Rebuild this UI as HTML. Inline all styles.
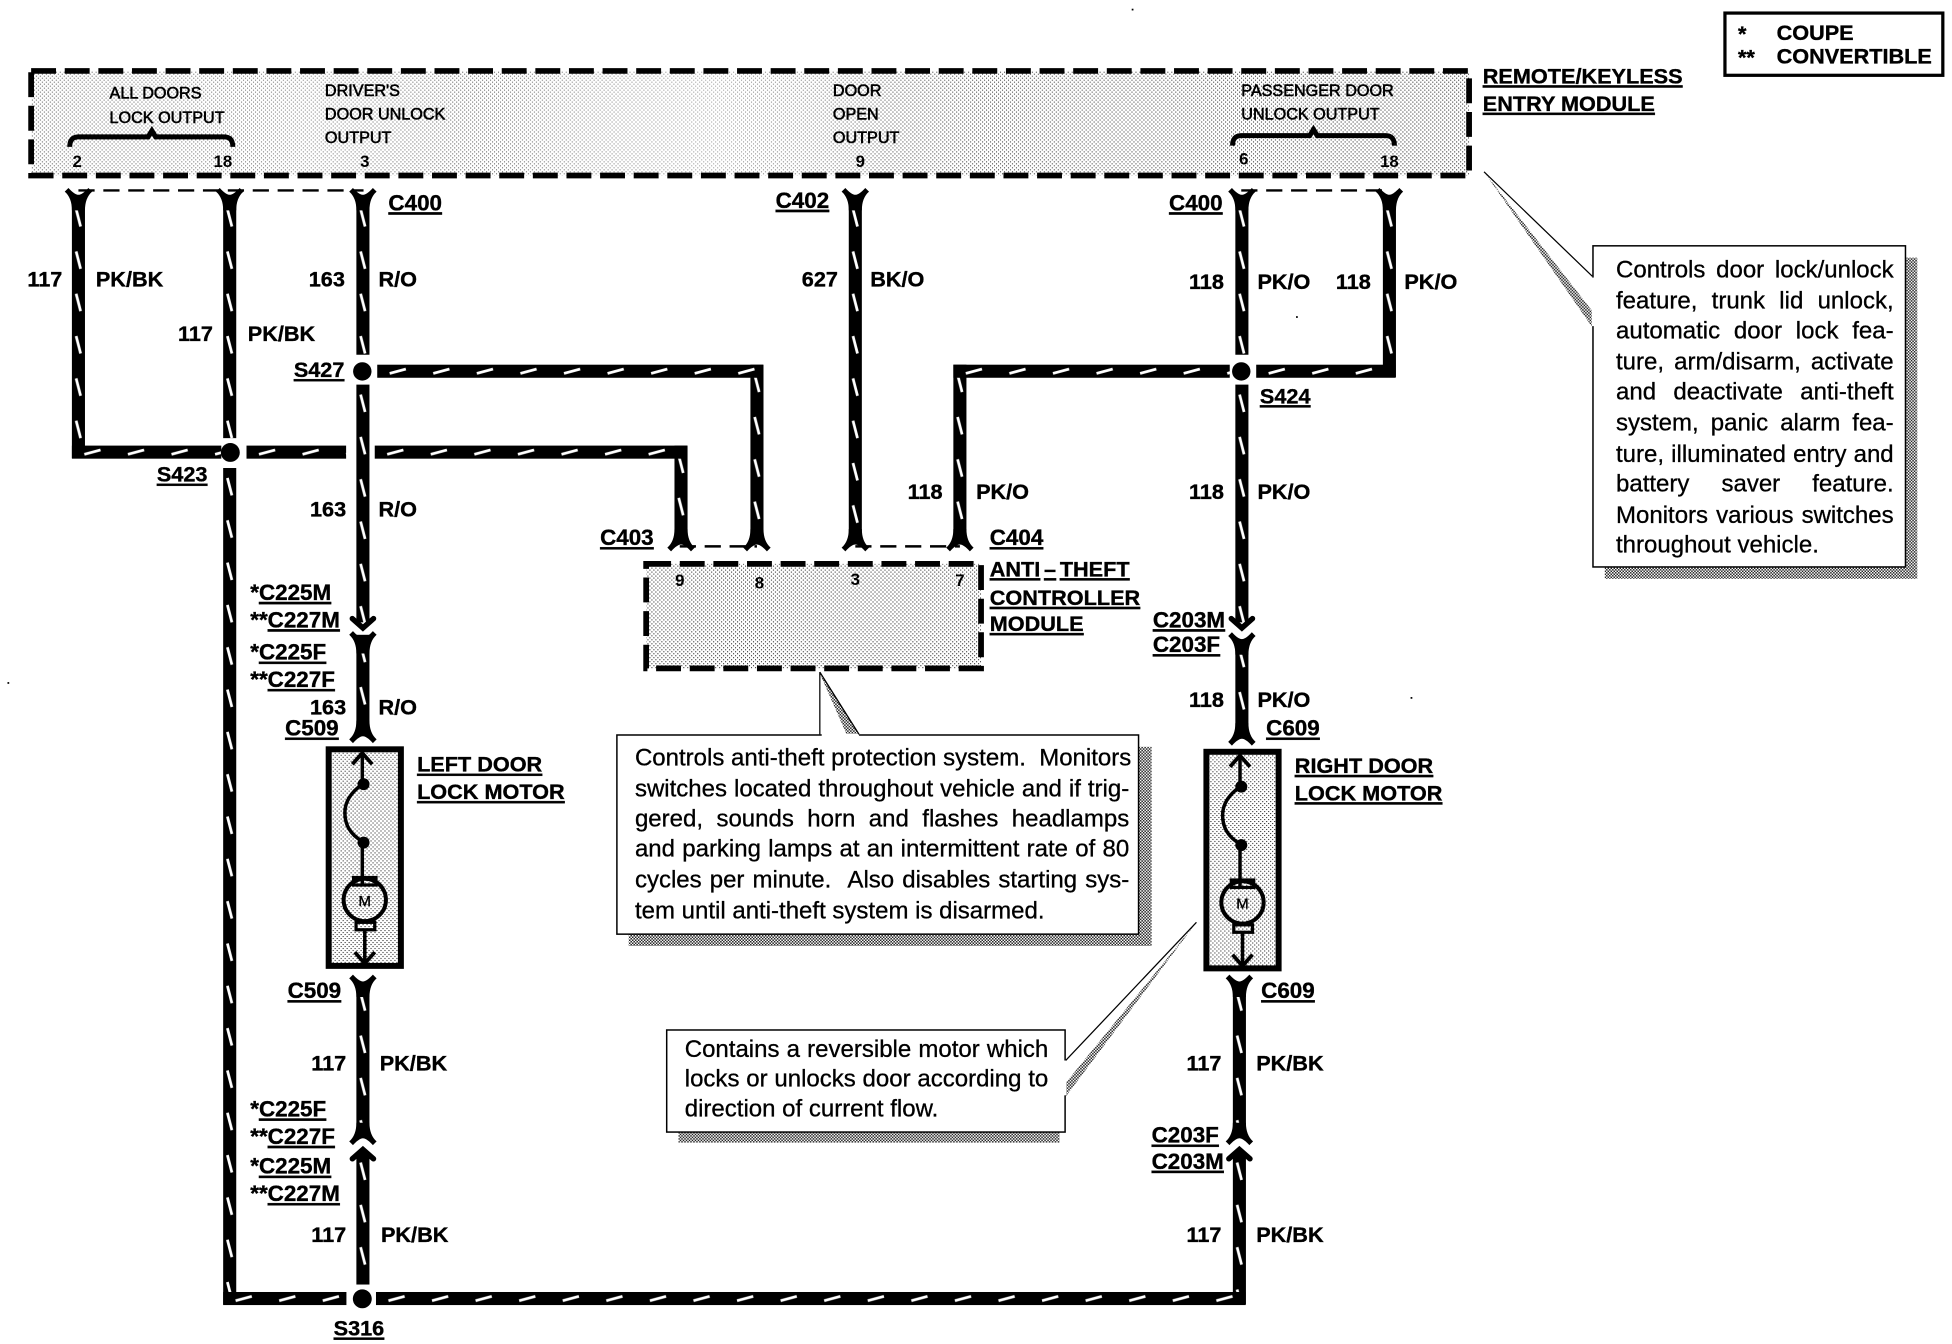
<!DOCTYPE html>
<html><head><meta charset="utf-8"><style>
html,body{margin:0;padding:0;background:#fff;width:1952px;height:1344px;overflow:hidden}
#w{position:absolute;left:0;top:0;width:1564px;height:1077px;transform-origin:0 0;transform:scale(1.245,1.2447)}
svg{position:absolute;left:0;top:0}
text{font-family:"Liberation Sans",sans-serif;fill:#000}
.b{font-weight:bold;font-size:17.4px;stroke:#000;stroke-width:.3}
.c{font-size:18px}
.u{text-decoration:underline}
.s{font-size:13px;stroke:#000;stroke-width:.45}
.n{font-size:13.5px;font-weight:bold;text-anchor:middle}
.l{position:absolute;font-family:"Liberation Sans",sans-serif;font-size:19.3px;line-height:20px;height:20px;color:#000;white-space:nowrap;text-align:justify;text-align-last:justify;-webkit-text-stroke:.25px #000;overflow:visible}
.l.e{text-align:left;text-align-last:left}
</style></head><body><div id="w">
<svg width="1564" height="1077" viewBox="0 0 1564 1077">
<defs>
<pattern id="v" width="10.5" height="34" patternUnits="userSpaceOnUse"><rect width="10.5" height="34"/><line x1="3.4" y1="8" x2="7" y2="22" stroke="#fff" stroke-width="2.2"/></pattern>
<pattern id="h" width="35" height="10.5" patternUnits="userSpaceOnUse"><rect width="35" height="10.5"/><line x1="10" y1="7" x2="23" y2="3.5" stroke="#fff" stroke-width="2.2"/></pattern>
<pattern id="st" width="3.2" height="3.2" patternUnits="userSpaceOnUse"><rect width="3.2" height="3.2" fill="#fff"/><rect width=".85" height=".85" fill="#222"/><rect x="1.6" y="1.6" width=".85" height=".85" fill="#222"/></pattern>
<pattern id="sh" width="2.4" height="2.4" patternUnits="userSpaceOnUse"><rect width="2.4" height="2.4" fill="#fff"/><rect width="1.2" height="1.2" fill="#222"/><rect x="1.2" y="1.2" width="1.2" height="1.2" fill="#222"/></pattern>
<linearGradient id="pale" x1="0" x2="1" y1="0" y2="0">
<stop offset="0" stop-color="#fff" stop-opacity=".25"/><stop offset=".2" stop-color="#fff" stop-opacity=".4"/><stop offset=".3" stop-color="#fff" stop-opacity=".25"/><stop offset=".48" stop-color="#fff" stop-opacity=".55"/><stop offset=".6" stop-color="#fff" stop-opacity=".15"/><stop offset="1" stop-color="#fff" stop-opacity="0"/>
</linearGradient>
<path id="fu" d="M-11,0 L-8,-3 Q-3,2.5 0,2.5 Q3,2.5 8,-3 L11,0 Q5.25,5 5.25,15 H-5.25 Q-5.25,5 -11,0Z"/>
<path id="fd" d="M-11,0 L-8,3 Q-3,-2.5 0,-2.5 Q3,-2.5 8,3 L11,0 Q5.25,-5 5.25,-15 H-5.25 Q-5.25,-5 -11,0Z"/>
<path id="ad" d="M-8.5,-6 L0,1.5 L8.5,-6" fill="none" stroke="#000" stroke-width="4.4" stroke-linecap="round"/>
<path id="au" d="M-8.5,6 L0,-1.5 L8.5,6" fill="none" stroke="#000" stroke-width="4.4" stroke-linecap="round"/>
<g id="motor">
<rect x="264" y="602" width="58" height="174" fill="url(#st)" stroke="#000" stroke-width="4.8"/>
<g fill="none" stroke="#000" stroke-width="2.8">
<path d="M291,606 V630"/><path d="M283,614 L291,605 L299,614" stroke-width="3"/>
<path d="M291,630 Q277,640 277,653 Q277,668 291,676"/>
<path d="M291,676 V712"/>
<circle cx="293" cy="723" r="17" stroke-width="3.2"/>
<rect x="284" y="705" width="18" height="6" stroke-width="2.6"/>
<rect x="286" y="741" width="15" height="6" stroke-width="2.6"/>
<path d="M293,747 V773"/><path d="M285,765 L293,774 L301,765" stroke-width="3"/>
</g>
<circle cx="292" cy="630" r="4.8"/><circle cx="292" cy="677" r="4.8"/>
<text x="293" y="728" font-size="12" text-anchor="middle" stroke="#000" stroke-width=".3">M</text>
</g>
</defs>

<!-- top module -->
<rect x="25" y="57" width="1155" height="84" fill="url(#st)"/>
<rect x="25" y="57" width="1155" height="84" fill="url(#pale)"/>
<rect x="25" y="57" width="1155" height="84" fill="none" stroke="#000" stroke-width="4.6" stroke-dasharray="20 7"/>
<rect x="1385.5" y="10.5" width="175" height="50" fill="#fff" stroke="#000" stroke-width="2.6"/>
<text class="b" x="1396" y="33">*</text><text class="b" x="1427" y="32">COUPE</text>
<text class="b" x="1396" y="52">**</text><text class="b" x="1427" y="51">CONVERTIBLE</text>

<text class="s" x="88" y="79">ALL DOORS</text><text class="s" x="88" y="99">LOCK OUTPUT</text>
<text class="s" x="261" y="77">DRIVER'S</text><text class="s" x="261" y="96">DOOR UNLOCK</text><text class="s" x="261" y="115">OUTPUT</text>
<text class="s" x="669" y="77">DOOR</text><text class="s" x="669" y="96">OPEN</text><text class="s" x="669" y="115">OUTPUT</text>
<text class="s" x="997" y="77">PASSENGER DOOR</text><text class="s" x="997" y="96">UNLOCK OUTPUT</text>
<path d="M56,118 Q56,110 63,110 H119 L122,105 L125,110 H180 Q187,110 187,118" fill="none" stroke="#000" stroke-width="4"/>
<path d="M990,117 Q990,109 997,109 H1052 L1055,104 L1058,109 H1113 Q1120,109 1120,117" fill="none" stroke="#000" stroke-width="4"/>
<text class="n" x="62" y="134">2</text><text class="n" x="179" y="134">18</text><text class="n" x="293" y="134">3</text><text class="n" x="691" y="134">9</text><text class="n" x="999" y="132">6</text><text class="n" x="1116" y="134">18</text>
<text class="b u" x="1191" y="67">REMOTE/KEYLESS</text><text class="b u" x="1191" y="89">ENTRY MODULE</text>

<!-- thin dashed connector links -->
<g stroke="#000" stroke-width="2" stroke-dasharray="13 7" fill="none">
<path d="M63,153 H292"/><path d="M997,153 H1116"/><path d="M546,439 H608"/><path d="M687,439 H771"/>
</g>

<!-- vertical wires -->
<g fill="url(#v)">
<rect transform="translate(57.75,160)" width="10.5" height="208"/>
<rect transform="translate(179.25,160)" width="10.5" height="192"/>
<rect transform="translate(179.25,376)" width="10.5" height="672"/>
<rect transform="translate(286.25,160)" width="10.5" height="125"/>
<rect transform="translate(286.25,309)" width="10.5" height="191"/>
<rect transform="translate(286.25,510)" width="10.5" height="78"/>
<rect transform="translate(286.25,790)" width="10.5" height="124"/>
<rect transform="translate(286.25,926)" width="10.5" height="106"/>
<rect transform="translate(541.75,358)" width="10.5" height="72"/>
<rect transform="translate(602.75,293)" width="10.5" height="135"/>
<rect transform="translate(681.75,160)" width="10.5" height="268"/>
<rect transform="translate(765.75,293)" width="10.5" height="135"/>
<rect transform="translate(992.25,160)" width="10.5" height="125"/>
<rect transform="translate(992.25,309)" width="10.5" height="191"/>
<rect transform="translate(992.25,514)" width="10.5" height="72"/>
<rect transform="translate(990.25,790)" width="10.5" height="124"/>
<rect transform="translate(990.25,926)" width="10.5" height="122"/>
<rect transform="translate(1110.75,160)" width="10.5" height="143"/>
</g>
<!-- horizontal wires -->
<g fill="url(#h)">
<rect transform="translate(57.75,358)" width="120" height="10.5"/>
<rect transform="translate(198,358)" width="80" height="10.5"/>
<rect transform="translate(301,358)" width="251" height="10.5"/>
<rect transform="translate(303,293)" width="310" height="10.5"/>
<rect transform="translate(765.75,293)" width="222" height="10.5"/>
<rect transform="translate(1009,293)" width="112" height="10.5"/>
<rect transform="translate(179.25,1038)" width="99" height="10.5"/>
<rect transform="translate(302,1038)" width="698.5" height="10.5"/>
</g>
<circle cx="185" cy="363.5" r="7.6"/><circle cx="291" cy="298.4" r="7.4"/><circle cx="997" cy="298.4" r="7.4"/><circle cx="291" cy="1043.5" r="7.6"/>

<!-- connectors -->
<use href="#fu" x="63" y="154"/><use href="#fu" x="184.5" y="154"/><use href="#fu" x="291.5" y="154"/><use href="#fu" x="687" y="154"/><use href="#fu" x="997.5" y="154"/><use href="#fu" x="1116" y="154"/>
<use href="#fd" x="547" y="440"/><use href="#fd" x="608" y="440"/><use href="#fd" x="687" y="440"/><use href="#fd" x="771" y="440"/>
<use href="#ad" x="291.5" y="503"/><use href="#fu" x="291.5" y="510"/><use href="#fd" x="291.5" y="594"/>
<use href="#ad" x="997.5" y="503"/><use href="#fu" x="997.5" y="511"/><use href="#fd" x="997.5" y="596"/>
<use href="#fu" x="291.5" y="786"/><use href="#fu" x="995.5" y="786"/>
<use href="#fd" x="291.5" y="917"/><use href="#au" x="291.5" y="925"/>
<use href="#fd" x="995.5" y="917"/><use href="#au" x="995.5" y="925"/>

<!-- anti-theft module -->
<rect x="519" y="453" width="269" height="84" fill="url(#st)" stroke="#000" stroke-width="4.6" stroke-dasharray="20 7"/>
<text class="n" x="546" y="471">9</text><text class="n" x="610" y="473">8</text><text class="n" x="687" y="470">3</text><text class="n" x="771" y="471">7</text>

<!-- motors -->
<use href="#motor"/>
<use href="#motor" x="705" y="2"/>

<!-- callout 1 -->
<rect x="1289" y="207" width="251" height="258" fill="url(#sh)"/>
<polygon points="1192,138 1279,250 1279,263" fill="url(#sh)"/>
<rect x="1279.5" y="197.5" width="251" height="258" fill="#fff" stroke="#000" stroke-width="1.2"/>
<line x1="1279.5" y1="223" x2="1279.5" y2="262" stroke="#fff" stroke-width="2"/>
<line x1="1192" y1="138" x2="1279" y2="222" stroke="#000" stroke-width="1"/>
<!-- callout 2 -->
<rect x="505" y="600" width="420" height="160" fill="url(#sh)"/>
<polygon points="658,540 690,590 680,590" fill="url(#sh)"/>
<rect x="495.5" y="590.5" width="419" height="160" fill="#fff" stroke="#000" stroke-width="1.2"/>
<line x1="660" y1="590.5" x2="690" y2="590.5" stroke="#fff" stroke-width="2"/>
<line x1="658.5" y1="540" x2="658.5" y2="590" stroke="#000" stroke-width="1"/>
<line x1="658.5" y1="540" x2="690" y2="590" stroke="#000" stroke-width="1"/>
<!-- callout 3 -->
<rect x="545" y="909" width="306" height="9" fill="url(#sh)"/>
<polygon points="961,741 856,870 856,881" fill="url(#sh)"/>
<rect x="535.5" y="827.5" width="320" height="82" fill="#fff" stroke="#000" stroke-width="1.2"/>
<line x1="855.5" y1="852" x2="855.5" y2="880" stroke="#fff" stroke-width="2"/>
<line x1="961" y1="741" x2="856" y2="852" stroke="#000" stroke-width="1"/>

<!-- labels -->
<g>
<text class="b c u" x="312" y="169">C400</text><text class="b c u" x="623" y="167">C402</text><text class="b c u" x="939" y="169">C400</text>
<text class="b" x="22" y="230">117</text><text class="b" x="77" y="230">PK/BK</text>
<text class="b" x="143" y="274">117</text><text class="b" x="199" y="274">PK/BK</text>
<text class="b" x="248" y="230">163</text><text class="b" x="304" y="230">R/O</text>
<text class="b" x="644" y="230">627</text><text class="b" x="699" y="230">BK/O</text>
<text class="b" x="955" y="232">118</text><text class="b" x="1010" y="232">PK/O</text>
<text class="b" x="1073" y="232">118</text><text class="b" x="1128" y="232">PK/O</text>
<text class="b u" x="236" y="303">S427</text><text class="b u" x="1012" y="324">S424</text><text class="b u" x="126" y="387">S423</text>
<text class="b" x="249" y="415">163</text><text class="b" x="304" y="415">R/O</text>
<text class="b" x="729" y="401">118</text><text class="b" x="784" y="401">PK/O</text>
<text class="b" x="955" y="401">118</text><text class="b" x="1010" y="401">PK/O</text>
<text class="b c u" x="482" y="438">C403</text><text class="b c u" x="795" y="438">C404</text>
<text class="b c" x="201" y="482">*<tspan class="u">C225M</tspan></text>
<text class="b c" x="201" y="504">**<tspan class="u">C227M</tspan></text>
<text class="b c" x="201" y="530">*<tspan class="u">C225F</tspan></text>
<text class="b c" x="201" y="552">**<tspan class="u">C227F</tspan></text>
<text class="b" x="249" y="574">163</text><text class="b" x="304" y="574">R/O</text><text class="b c u" x="229" y="591">C509</text>
<text class="b u" x="335" y="620">LEFT DOOR</text><text class="b u" x="335" y="642">LOCK MOTOR</text>
<text class="b u" x="795" y="463">ANTI<tspan dx="3">–</tspan><tspan dx="3">THEFT</tspan></text><text class="b u" x="795" y="486">CONTROLLER</text><text class="b u" x="795" y="507">MODULE</text>
<text class="b c u" x="926" y="504">C203M</text><text class="b c u" x="926" y="524">C203F</text>
<text class="b" x="955" y="568">118</text><text class="b" x="1010" y="568">PK/O</text><text class="b c u" x="1017" y="591">C609</text>
<text class="b u" x="1040" y="621">RIGHT DOOR</text><text class="b u" x="1040" y="643">LOCK MOTOR</text>
<text class="b c u" x="231" y="802">C509</text><text class="b c u" x="1013" y="802">C609</text>
<text class="b" x="250" y="860">117</text><text class="b" x="305" y="860">PK/BK</text>
<text class="b" x="953" y="860">117</text><text class="b" x="1009" y="860">PK/BK</text>
<text class="b c" x="201" y="897">*<tspan class="u">C225F</tspan></text>
<text class="b c" x="201" y="919">**<tspan class="u">C227F</tspan></text>
<text class="b c" x="201" y="943">*<tspan class="u">C225M</tspan></text>
<text class="b c" x="201" y="965">**<tspan class="u">C227M</tspan></text>
<text class="b c u" x="925" y="918">C203F</text><text class="b c u" x="925" y="939">C203M</text>
<text class="b" x="250" y="998">117</text><text class="b" x="306" y="998">PK/BK</text>
<text class="b" x="953" y="998">117</text><text class="b" x="1009" y="998">PK/BK</text>
<text class="b u" x="268" y="1073">S316</text>
</g>
<g fill="#000"><rect x="909" y="7" width="1.4" height="1.4"/><rect x="6" y="548" width="1.4" height="1.4"/><rect x="1133" y="560" width="1.4" height="1.4"/><rect x="1041" y="254" width="1.4" height="1.4"/></g>
</svg>

<!-- callout 1 text -->
<div class="l" style="left:1298px;top:208px;width:223px">Controls door lock/unlock</div>
<div class="l" style="left:1298px;top:233px;width:223px">feature, trunk lid unlock,</div>
<div class="l" style="left:1298px;top:257px;width:223px">automatic door lock fea-</div>
<div class="l" style="left:1298px;top:282px;width:223px">ture, arm/disarm, activate</div>
<div class="l" style="left:1298px;top:306px;width:223px">and deactivate anti-theft</div>
<div class="l" style="left:1298px;top:331px;width:223px">system, panic alarm fea-</div>
<div class="l" style="left:1298px;top:356px;width:223px">ture, illuminated entry and</div>
<div class="l" style="left:1298px;top:380px;width:223px">battery saver feature.</div>
<div class="l" style="left:1298px;top:405px;width:223px">Monitors various switches</div>
<div class="l e" style="left:1298px;top:429px;width:223px">throughout vehicle.</div>
<!-- callout 2 text -->
<div class="l" style="left:510px;top:600px;width:397px">Controls anti-theft protection system. &nbsp;Monitors</div>
<div class="l" style="left:510px;top:625px;width:397px">switches located throughout vehicle and if trig-</div>
<div class="l" style="left:510px;top:649px;width:397px">gered, sounds horn and flashes headlamps</div>
<div class="l" style="left:510px;top:673px;width:397px">and parking lamps at an intermittent rate of 80</div>
<div class="l" style="left:510px;top:698px;width:397px">cycles per minute. &nbsp;Also disables starting sys-</div>
<div class="l e" style="left:510px;top:723px;width:397px">tem until anti-theft system is disarmed.</div>
<!-- callout 3 text -->
<div class="l" style="left:550px;top:834px;width:292px">Contains a reversible motor which</div>
<div class="l" style="left:550px;top:858px;width:292px">locks or unlocks door according to</div>
<div class="l e" style="left:550px;top:882px;width:292px">direction of current flow.</div>
</div></body></html>
